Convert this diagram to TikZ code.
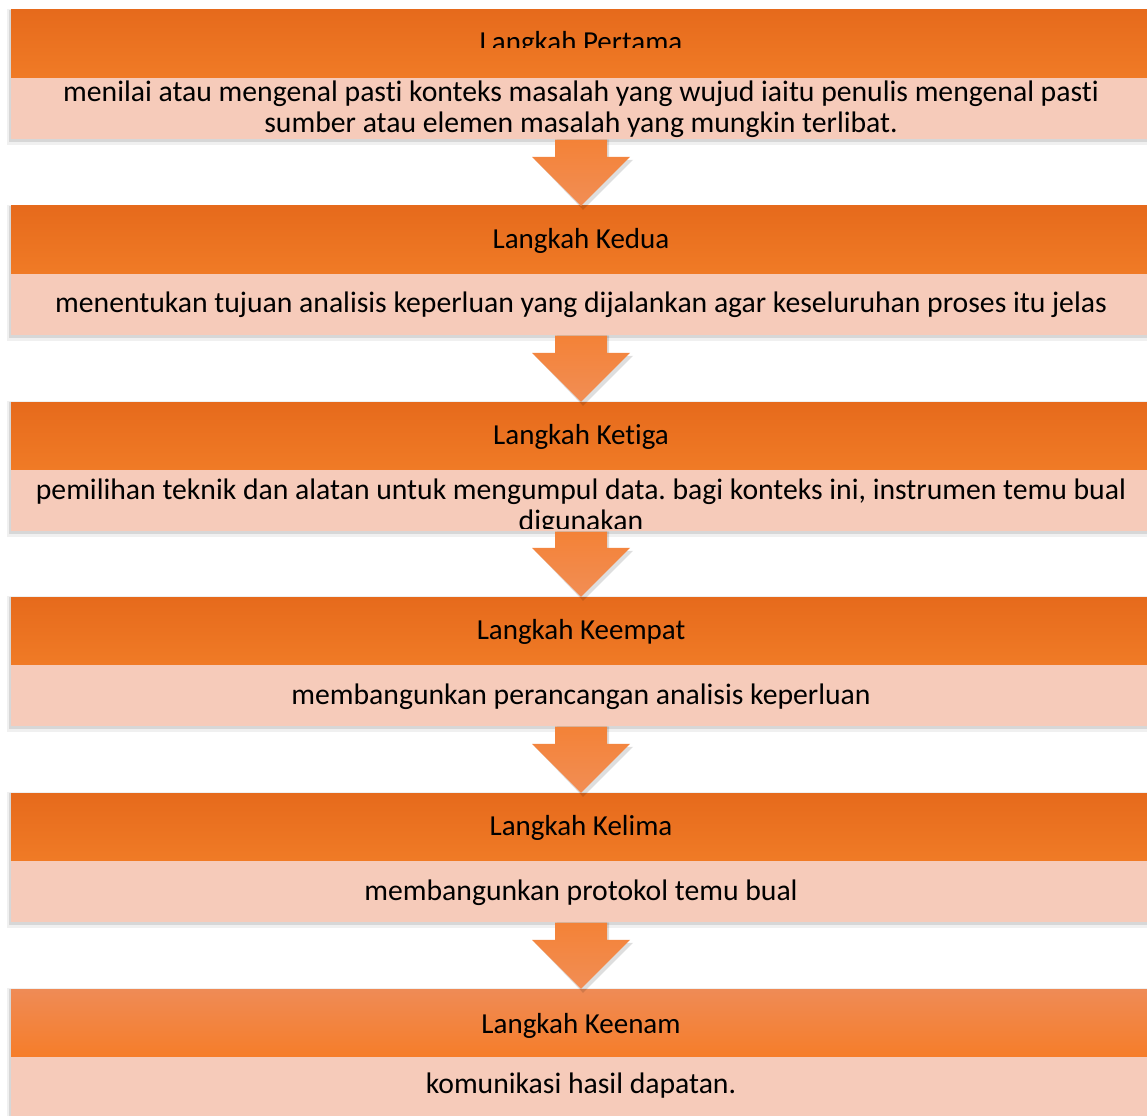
\documentclass[tikz,border=0pt]{standalone}
\usepackage{fontspec}
\setmainfont[Ligatures=CommonOff]{Carlito}
\frenchspacing
\usetikzlibrary{calc,positioning}
\definecolor{headtop}{HTML}{E66A1C}
\definecolor{headbot}{HTML}{F07B26}
\definecolor{lasttop}{HTML}{EF8B56}
\definecolor{lastbot}{HTML}{F67D29}
\definecolor{bodyfill}{HTML}{F6CBBA}
\definecolor{arrowtop}{HTML}{F38237}
\definecolor{arrowbot}{HTML}{F28E55}
\tikzset{
  headbox/.style={minimum width=1140pt,minimum height=68pt,inner sep=0pt,
    top color=headtop,bottom color=headbot},
  lastbox/.style={headbox,top color=lasttop,bottom color=lastbot},
  bodybox/.style={minimum width=1140pt,minimum height=61pt,inner sep=0pt,
    fill=bodyfill,below=0pt of #1},
  steptext/.style={anchor=base,inner sep=0pt,font=\fontsize{29}{31}\selectfont},
  desctext/.style={steptext,font=\fontsize{29.7}{31}\selectfont},
  flowarrow/.style={top color=arrowtop,bottom color=arrowbot},
  softshade/.style={fill=black,opacity=#1}
}
\begin{document}
\begin{tikzpicture}[x=1pt,y=-1pt]
\useasboundingbox[fill=white] (0,0) rectangle (1147,1115);
% shadows first, boxes on top
\foreach \y in {10,206,402,597,793,989} {
  \fill[softshade=.06] (7,\y-1) rectangle (1155,\y+135);
  \fill[softshade=.10] (9,\y) rectangle (1155,\y+132);
}
\node[headbox] (h1) at (581,44) {};
\node[bodybox=h1] (b1) {};
\node[headbox] (h2) at (581,240) {};
\node[bodybox=h2] (b2) {};
\node[headbox] (h3) at (581,436) {};
\node[bodybox=h3] (b3) {};
\node[headbox] (h4) at (581,631) {};
\node[bodybox=h4] (b4) {};
\node[headbox] (h5) at (581,827) {};
\node[bodybox=h5] (b5) {};
\node[lastbox] (h6) at (581,1023) {};
\node[bodybox=h6] (b6) {};
% arrows between the steps
\foreach \i [evaluate=\i as \j using int(\i+1)] in {1,...,5} {
  \fill[softshade=.13] ($(b\i.south)+(-24,0)$) -- ($(b\i.south)+(28,0)$)
    -- ($(h\j.north)+(28,-46)$) -- ($(h\j.north)+(52,-46)$) -- ($(h\j.north)+(2,4)$)
    -- ($(h\j.north)+(-46,-46)$) -- ($(h\j.north)+(-24,-46)$) -- cycle;
  \path[flowarrow] ($(b\i.south)+(-26,0)$) -- ($(b\i.south)+(26,0)$)
    -- ($(h\j.north)+(26,-49)$) -- ($(h\j.north)+(49,-49)$) -- (h\j.north)
    -- ($(h\j.north)+(-49,-49)$) -- ($(h\j.north)+(-26,-49)$) -- cycle;
}
% step titles
\begin{scope}
  \clip (h1.north west) rectangle ($(h1.east)+(0,4)$);
  \node[steptext] (t1) at ($(h1.center)+(0,8)$) {Langkah Pertama};
\end{scope}
\node[steptext] (t2) at ($(h2.center)+(0,8)$) {Langkah Kedua};
\node[steptext] (t3) at ($(h3.center)+(0,8)$) {Langkah Ketiga};
\node[steptext] (t4) at ($(h4.center)+(0,8)$) {Langkah Keempat};
\node[steptext] (t5) at ($(h5.center)+(0,8)$) {Langkah Kelima};
\node[steptext] (t6) at ($(h6.center)+(0,10)$) {Langkah Keenam};
% step descriptions
\node[desctext] (d1a) at ($(b1.center)+(0,-7)$) {menilai atau mengenal pasti konteks masalah yang wujud iaitu penulis mengenal pasti};
\node[desctext] (d1b) at ($(b1.center)+(0,24)$) {sumber atau elemen masalah yang mungkin terlibat.};
\node[desctext] (d2) at ($(b2.center)+(0,8)$) {menentukan tujuan analisis keperluan yang dijalankan agar keseluruhan proses itu jelas};
\begin{scope}
  \clip ($(b3.north west)+(0,0)$) rectangle ($(b3.south east)+(0,-3)$);
  \node[desctext] (d3a) at ($(b3.center)+(0,-1)$) {pemilihan teknik dan alatan untuk mengumpul data. bagi konteks ini, instrumen temu bual};
  \node[desctext] (d3b) at ($(b3.center)+(0,30)$) {digunakan};
\end{scope}
\node[desctext] (d4) at ($(b4.center)+(0,9)$) {membangunkan perancangan analisis keperluan};
\node[desctext] (d5) at ($(b5.center)+(0,9)$) {membangunkan protokol temu bual};
\node[desctext] (d6) at ($(b6.center)+(0,6)$) {komunikasi hasil dapatan.};
\end{tikzpicture}
\end{document}
